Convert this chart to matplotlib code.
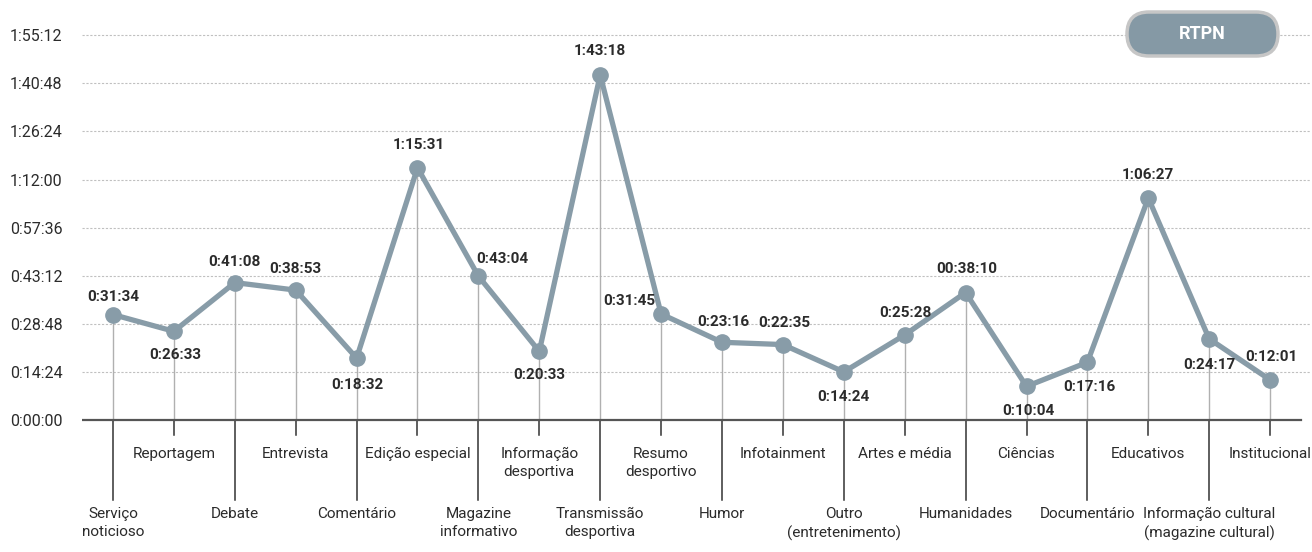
import matplotlib
matplotlib.use("Agg")
import matplotlib.pyplot as plt
from matplotlib.patches import FancyBboxPatch
from matplotlib.transforms import IdentityTransform

# data
categories = ["Serviço\nnoticioso", "Reportagem", "Debate", "Entrevista", "Comentário",
              "Edição especial", "Magazine\ninformativo", "Informação\ndesportiva",
              "Transmissão\ndesportiva", "Resumo\ndesportivo", "Humor", "Infotainment",
              "Outro\n(entretenimento)", "Artes e média", "Humanidades", "Ciências",
              "Documentário", "Educativos", "Informação cultural\n(magazine cultural)",
              "Institucional"]
durations = ["0:31:34", "0:26:33", "0:41:08", "0:38:53", "0:18:32", "1:15:31", "0:43:04",
             "0:20:33", "1:43:18", "0:31:45", "0:23:16", "0:22:35", "0:14:24", "0:25:28",
             "00:38:10", "0:10:04", "0:17:16", "1:06:27", "0:24:17", "0:12:01"]
channel = "RTPN"

def to_sec(s):
    h, m, sec = s.split(":")
    return int(h) * 3600 + int(m) * 60 + int(sec)

def fmt(v):
    v = int(round(v))
    return "%d:%02d:%02d" % (v // 3600, (v % 3600) // 60, v % 60)

secs = [to_sec(d) for d in durations]
xs = list(range(len(categories)))

# label offsets in pixels (dx, dy up)
offs = [(0, 18), (1, -24), (0, 21), (0, 21), (1, -27), (1, 23), (24, 17), (0, -24),
        (0, 24), (-32, 13), (1, 20), (1, 22), (0, -25), (1, 22), (1, 24), (2, -25),
        (2, -25), (0, 23), (0, -26), (1, 23)]

plt.rcParams["font.family"] = ["Roboto", "DejaVu Sans"]
LINE = "#889ca8"
TXT = "#2b2b2b"

W, H = 1312, 552
fig = plt.figure(figsize=(W / 100, H / 100), dpi=100)

# axes in pixel layout: zero at y=420, 864 s = 48.1 px
step = 864
ppx = 48.1 / step
top_px, bot_px = 25, 552
left_px, right_px = 82, 1310
ax = fig.add_axes([left_px / W, (H - bot_px) / H, (right_px - left_px) / W, (bot_px - top_px) / H])
ax.set_ylim((420 - bot_px) / ppx, (420 - top_px) / ppx)
spacing = 60.9
ax.set_xlim(-(113 - left_px) / spacing, -(113 - left_px) / spacing + (right_px - left_px) / spacing)
for s in ax.spines.values():
    s.set_visible(False)
ax.set_xticks([])

yt = [i * step for i in range(9)]
ax.set_yticks(yt)
ax.set_yticklabels([fmt(v) for v in yt], fontsize=11.5, color=TXT)
ax.tick_params(axis="y", length=0, pad=14)
for v in yt[1:]:
    ax.axhline(v, color="#c0c0c0", lw=0.8, ls=(0, (2, 1.5)), zorder=0)
ax.plot([-0.5, 19.5], [0, 0], color="#555555", lw=1.6, zorder=2)

def py(px):
    return -px / ppx

for i, (x, v) in enumerate(zip(xs, secs)):
    ax.plot([x, x], [0, v], color="#b0b0b0", lw=1, zorder=1)
    long = i % 2 == 0
    ax.plot([x, x], [0, py(80 if long else 15)], color="#333333", lw=1.1, zorder=1)
    ax.text(x, py(87 if long else 27), categories[i], ha="center", va="top",
            fontsize=11, color=TXT, linespacing=1.35)

ax.plot(xs, secs, color=LINE, lw=3.8, marker="o", ms=11, zorder=3, solid_joinstyle="round")

for i, (x, v) in enumerate(zip(xs, secs)):
    dx, dy = offs[i]
    ax.annotate(durations[i], (x, v), xytext=(dx * 0.72, dy * 0.72), textcoords="offset points",
                ha="center", va="center", fontsize=11, fontweight="bold", color=TXT, zorder=4)

badge = FancyBboxPatch((1127, H - 56), 151, 44, boxstyle="round,pad=0,rounding_size=22",
                       fc="#8599a5", ec="#c6c6c6", lw=2.5, transform=IdentityTransform(), zorder=5)
fig.patches.append(badge)
fig.text(1202 / W, 1 - 34 / H, channel, ha="center", va="center", color="white",
         fontsize=13, fontweight="bold", zorder=6)

fig.savefig("out.png", dpi=100)
